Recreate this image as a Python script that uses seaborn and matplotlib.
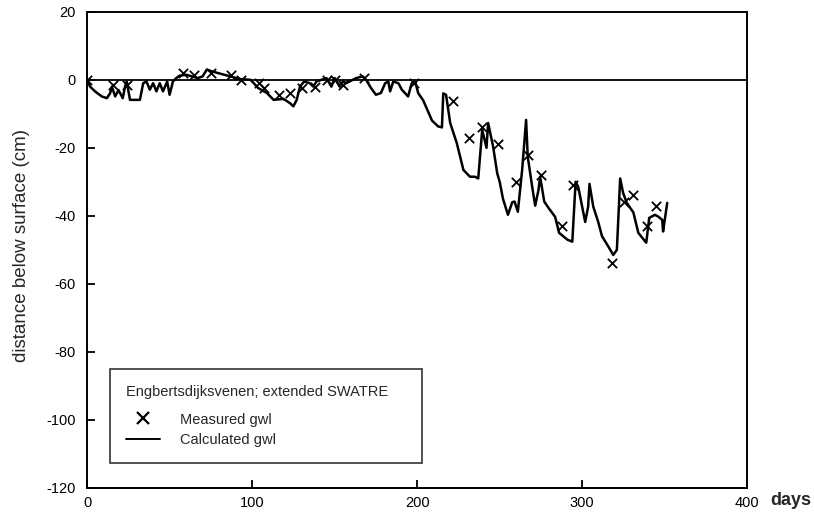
import matplotlib
matplotlib.use("Agg")
import matplotlib.pyplot as plt
import seaborn as sns
from matplotlib.lines import Line2D

# calculated groundwater level (cm below surface, negative = below)
calc_day = [0, 1.8, 4.8, 8.9, 12, 14, 15, 17, 19, 21.6, 23, 24, 26, 32, 34, 36, 38, 40,
            42, 44, 46, 48.5, 50, 52, 54, 56, 60, 67, 70, 72.5, 75.5, 86.7, 92.7, 99,
            101, 103.6, 109, 113, 119, 123, 125, 127, 129, 131.5, 135, 137, 139, 145,
            148, 150, 153, 155, 157, 163, 167, 169, 172, 175, 178, 180.6, 182.5, 183.6,
            185.5, 188.6, 190.7, 194.5, 196.7, 198.8, 200.6, 203.6, 209, 212.7, 215,
            215.8, 217.5, 220, 224, 228, 232, 235, 237, 239.4, 242, 243, 246, 248.5,
            250, 252, 255, 257.6, 259, 261, 263.6, 266, 267, 269.7, 271.5, 273.5,
            274.5, 277, 279.5, 283.6, 286, 291, 294, 296, 297.6, 300, 301.8, 303.6,
            304.4, 306.7, 309.7, 312, 315.8, 318.8, 321, 323, 324.8, 327, 331, 334,
            338.8, 340.6, 344, 346, 348.5, 349, 351.5]
calc_gwl = [0, -2, -3.4, -4.9, -5.4, -3.9, -2, -4.9, -3, -5.4, -2, -0.5, -5.9, -5.9, -1,
            -0.5, -2.9, -1, -3.4, -1, -3.4, -0.5, -4.4, -0.5, 0.5, 1.2, 1.5, 0.5, 1, 3,
            2.5, 1, 0.2, 0, -1, -2.4, -3.9, -5.9, -5.6, -6.9, -7.8, -5.9, -2, -0.5, -1,
            -2, -0.5, 0.5, -2, 0.5, -2, -0.5, -1, 0.5, 1, 0, -2.4, -4.4, -3.9, -1, -0.5,
            -3.4, -0.5, -1, -2.9, -4.9, -1, -0.5, -3.9, -6, -12, -13.7, -14, -4, -4.4,
            -12.7, -18.6, -26.5, -28.5, -28.5, -29, -14.7, -20, -12.7, -19.6, -27.5,
            -30, -35, -39.7, -36, -35.8, -38.8, -26.5, -11.8, -22.6, -31.5, -37, -32.4,
            -28.5, -35.8, -37.6, -40.3, -45, -47, -47.6, -30, -31.5, -37.3, -41.8,
            -37.3, -30.6, -37.3, -41.8, -46, -49, -51.5, -50, -29, -33.3, -36.2, -39,
            -45, -47.9, -40.6, -39.7, -40.2, -41.2, -44.6, -36.2]

# measured groundwater level
meas_day = [0, 15.8, 24, 58, 65, 75, 87, 93, 104, 107, 116, 123, 130, 138, 145.5, 150,
            155, 168, 198, 222, 231.5, 239, 249, 260, 267, 275, 288, 294.5, 318, 325.5,
            331, 339, 345]
meas_gwl = [0, -1.5, -1.5, 2, 1.5, 2, 1.5, 0, -1, -2.4, -4.4, -3.8, -2.4, -2, 0, 0,
            -1.5, 0.5, -1, -6.2, -17, -14, -19, -30, -22, -28, -43, -31, -54, -36, -34,
            -43, -37]

sns.set_style("ticks")
plt.rcParams["font.family"] = ["Liberation Sans", "DejaVu Sans"]
plt.rcParams["axes.unicode_minus"] = False

fig, ax = plt.subplots(figsize=(8.14, 5.12), dpi=100)
fig.subplots_adjust(left=0.107, right=0.918, top=0.977, bottom=0.047)

ax.axhline(0, color="black", lw=1.3, zorder=1)
sns.lineplot(x=calc_day, y=calc_gwl, ax=ax, color="black", lw=1.8,
             estimator=None, sort=False, zorder=2)
sns.scatterplot(x=meas_day, y=meas_gwl, ax=ax, marker="x", color="black",
                s=45, linewidth=1.3, zorder=3)

ax.set_xlim(0, 400)
ax.set_ylim(-120, 20)
ax.set_xticks([0, 100, 200, 300, 400])
ax.set_yticks(range(-120, 21, 20))
ax.tick_params(direction="in", length=6, width=1.3, labelsize=10.5, colors="black")
ax.tick_params(axis="x", pad=6)
ax.tick_params(axis="y", pad=8)
for sp in ax.spines.values():
    sp.set_visible(True)
    sp.set_linewidth(1.4)
    sp.set_color("black")

ax.set_ylabel("distance below surface (cm)", fontsize=13.5)
ax.yaxis.label.set_va("center")
ax.yaxis.set_label_coords(-0.1, 0.51)
ax.set_xlabel("days", fontsize=13, fontweight="bold", ha="left")
ax.xaxis.label.set_va("center")
ax.xaxis.set_label_coords(1.035, -0.026)

handles = [Line2D([], [], color="black", marker="x", linestyle="none",
                  markersize=8, markeredgewidth=1.6),
           Line2D([], [], color="black", lw=1.4)]
leg = ax.legend(handles, ["Measured gwl", "Calculated gwl"],
                title="Engbertsdijksvenen; extended SWATRE",
                loc="lower left", bbox_to_anchor=(0.035, 0.052, 0.473, 0.2),
                mode="expand", fontsize=10.5, title_fontsize=10.5,
                alignment="left", frameon=True, fancybox=False, edgecolor="black",
                handlelength=2.3, handletextpad=1.4, labelspacing=0.45,
                borderpad=1.1, borderaxespad=0)
leg.get_frame().set_linewidth(1.2)
leg._legend_box.sep = 10  # a bit more room under the title

fig.savefig("out.png", dpi=100)
